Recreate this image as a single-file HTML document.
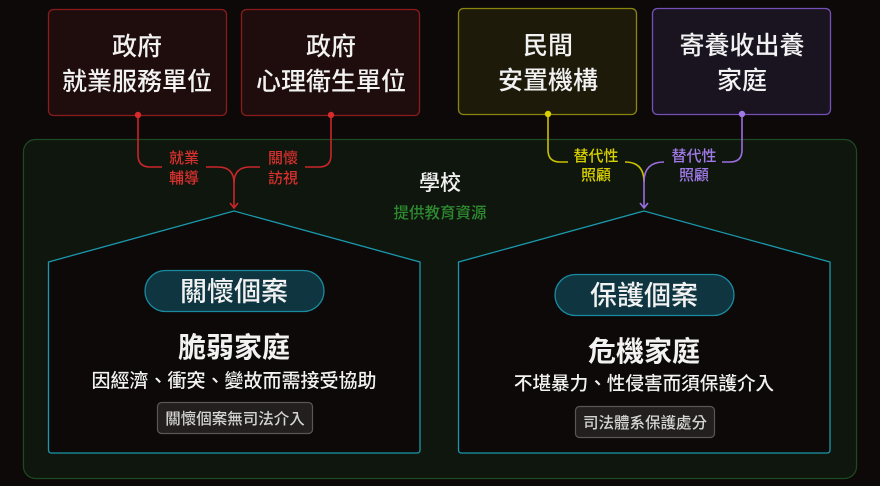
<!DOCTYPE html>
<html><head><meta charset="utf-8"><style>
html,body{margin:0;padding:0;background:#0c0908;}
svg{display:block}
text{font-family:"Liberation Sans","Noto Sans CJK TC",sans-serif;font-weight:500;}
text.b{font-weight:bold;}
</style></head><body>
<svg width="880" height="486" viewBox="0 0 880 486" xmlns="http://www.w3.org/2000/svg">
<rect width="880" height="486" fill="#0c0908"/>
<rect x="23.5" y="139.5" width="833" height="339" rx="12" fill="#0f160d" stroke="#1f4a22" stroke-width="1.2"/>
<rect x="48.5" y="9.5" width="178" height="106" rx="5" fill="#1e0d0c" stroke="#8a1c1c" stroke-width="1.3"/>
<rect x="241.5" y="9.5" width="178" height="106" rx="5" fill="#1e0d0c" stroke="#8a1c1c" stroke-width="1.3"/>
<rect x="458.5" y="8.5" width="178" height="106" rx="5" fill="#1d1a0a" stroke="#8a8410" stroke-width="1.3"/>
<rect x="652.5" y="8.5" width="178" height="106" rx="5" fill="#1a1320" stroke="#7450b8" stroke-width="1.3"/>
<g fill="#f2f2f2" font-size="25" text-anchor="middle">
<text x="137" y="55">政府</text><text x="137" y="90">就業服務單位</text>
<text x="331" y="55">政府</text><text x="331" y="90">心理衛生單位</text>
<text x="548" y="54">民間</text><text x="548" y="89">安置機構</text>
<text x="742" y="54">寄養收出養</text><text x="742" y="89">家庭</text>
</g>
<g fill="none" stroke="#c8262a" stroke-width="1.6">
<path d="M138 115 V155 Q138 167 150 167 H162"/>
<path d="M206 167 H218 Q234 167 234 183 V207"/>
<path d="M331 115 V155 Q331 167 319 167 H305"/>
<path d="M260 167 H250 Q234 167 234 183"/>
<path d="M230 203 L234 208 L238 203"/>
</g>
<circle cx="138" cy="115" r="3.2" fill="#d82a2a"/>
<circle cx="331" cy="115" r="3.2" fill="#d82a2a"/>
<g fill="#d8302e" font-size="15" text-anchor="middle">
<text x="184" y="163">就業</text><text x="184" y="183">輔導</text>
<text x="283" y="163">關懷</text><text x="283" y="183">訪視</text>
</g>
<g fill="none" stroke-width="1.6">
<path d="M548 114 V150 Q548 162 560 162 H568" stroke="#c8c000"/>
<path d="M625 162 Q644 162 644 182" stroke="#c8c000"/>
<path d="M742 114 V150 Q742 162 730 162 H722" stroke="#9a6ee0"/>
<path d="M664 162 Q644 162 644 182 V207" stroke="#9a6ee0"/>
<path d="M640 203 L644 208 L648 203" stroke="#9a6ee0"/>
</g>
<circle cx="548" cy="114" r="3.2" fill="#d8d000"/>
<circle cx="742" cy="114" r="3.2" fill="#a07ae8"/>
<g font-size="15" text-anchor="middle">
<text x="596" y="161" fill="#d8d000">替代性</text><text x="596" y="180" fill="#d8d000">照顧</text>
<text x="694" y="161" fill="#a07ae8">替代性</text><text x="694" y="180" fill="#a07ae8">照顧</text>
</g>
<text x="440" y="190" fill="#f2f2f2" font-size="21" text-anchor="middle">學校</text>
<text x="440" y="218" fill="#2e8a30" font-size="15.5" text-anchor="middle">提供教育資源</text>
<path d="M48.5 262 L234 211 L420 262 V450 Q420 453 417 453 H51.5 Q48.5 453 48.5 450 Z" fill="#0c0908" stroke="#1a98ac" stroke-width="1.3"/>
<path d="M458.5 262 L644 211 L830 262 V450 Q830 453 827 453 H461.5 Q458.5 453 458.5 450 Z" fill="#0c0908" stroke="#1a98ac" stroke-width="1.3"/>
<rect x="145" y="270.5" width="179" height="41" rx="20.5" fill="#0e3540" stroke="#1a8aa0" stroke-width="1.3"/>
<rect x="555" y="274.5" width="179" height="41" rx="20.5" fill="#0e3540" stroke="#1a8aa0" stroke-width="1.3"/>
<g fill="#f2f2f2" text-anchor="middle">
<text x="234" y="301" font-size="27">關懷個案</text>
<text x="644" y="305" font-size="27">保護個案</text>
<text class="b" x="234" y="357" font-size="28">脆弱家庭</text>
<text class="b" x="644" y="361" font-size="28">危機家庭</text>
<text x="234" y="387" font-size="19">因經濟、衝突、變故而需接受協助</text>
<text x="644" y="390" font-size="18.6">不堪暴力、性侵害而須保護介入</text>
</g>
<rect x="157.5" y="402.5" width="155" height="31" rx="4" fill="#221f1e" stroke="#5a5654" stroke-width="1.2"/>
<rect x="575.5" y="406.5" width="139" height="31" rx="4" fill="#221f1e" stroke="#5a5654" stroke-width="1.2"/>
<text x="235" y="424" fill="#d4d4d4" font-size="15.5" text-anchor="middle">關懷個案無司法介入</text>
<text x="645" y="428" fill="#d4d4d4" font-size="15.5" text-anchor="middle">司法體系保護處分</text>
</svg>
</body></html>
